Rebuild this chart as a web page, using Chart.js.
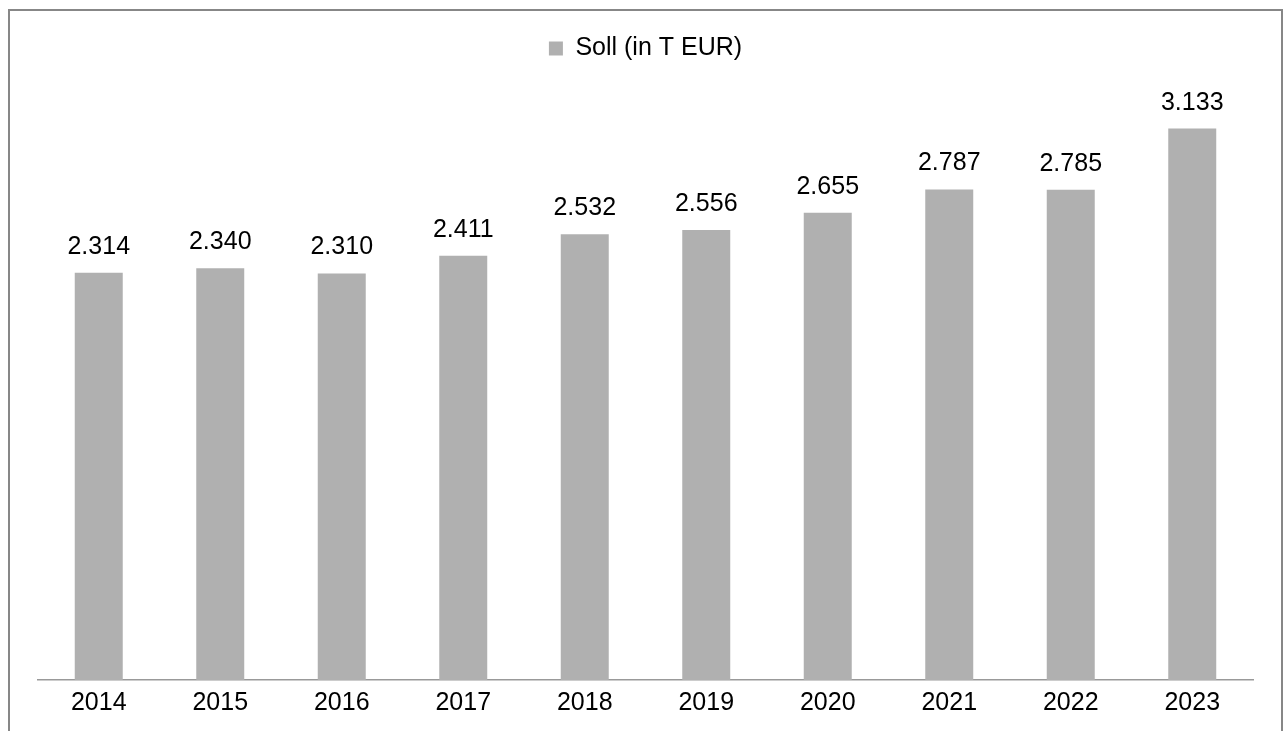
<!DOCTYPE html>
<html>
<head>
<meta charset="utf-8">
<script src="https://cdn.jsdelivr.net/npm/chart.js@4/dist/chart.umd.min.js"></script>
<style>
html,body{margin:0;padding:0;background:#fff;overflow:hidden;}
#wrap{position:relative;width:1286px;height:731px;}
</style>
</head>
<body>
<div id="wrap"><canvas id="c" width="1286" height="731"></canvas></div>
<script>
const categories = ['2014','2015','2016','2017','2018','2019','2020','2021','2022','2023'];
const sollValues = [2314, 2340, 2310, 2411, 2532, 2556, 2655, 2787, 2785, 3133];
const seriesLabel = 'Soll (in T EUR)';

const fmt = v => v.toLocaleString('de-DE');

const frame = {
  id: 'frame',
  beforeDraw(chart) {
    const ctx = chart.ctx;
    ctx.save();
    ctx.fillStyle = '#fff';
    ctx.fillRect(0, 0, chart.width, chart.height);
    ctx.strokeStyle = '#878787';
    ctx.lineWidth = 2;
    ctx.beginPath();
    ctx.moveTo(9, 760);
    ctx.lineTo(9, 10);
    ctx.lineTo(1282, 10);
    ctx.lineTo(1282, 760);
    ctx.stroke();
    ctx.restore();
  }
};

const valueLabels = {
  id: 'valueLabels',
  afterDatasetsDraw(chart) {
    const ctx = chart.ctx;
    const meta = chart.getDatasetMeta(0);
    ctx.save();
    ctx.font = '25px "Liberation Sans", Arial, sans-serif';
    ctx.fillStyle = '#000';
    ctx.textAlign = 'center';
    ctx.textBaseline = 'alphabetic';
    meta.data.forEach((bar, i) => {
      ctx.fillText(fmt(chart.data.datasets[0].data[i]), bar.x, bar.y - 19);
    });
    ctx.restore();
  }
};

new Chart(document.getElementById('c'), {
  type: 'bar',
  data: {
    labels: categories,
    datasets: [{
      label: seriesLabel,
      data: sollValues,
      backgroundColor: '#b0b0b0',
      borderWidth: 0,
      categoryPercentage: 1,
      barPercentage: 0.395
    }]
  },
  options: {
    responsive: false,
    animation: false,
    layout: { padding: { left: 38, right: 33, top: 31, bottom: 5 } },
    plugins: {
      legend: {
        display: true,
        position: 'top',
        labels: {
          font: { family: '"Liberation Sans", Arial, sans-serif', size: 25 },
          color: '#000',
          boxWidth: 14,
          boxHeight: 14,
          padding: 5
        }
      },
      tooltip: { enabled: false }
    },
    scales: {
      x: {
        grid: { display: false, drawTicks: false },
        border: { display: true, color: '#999', width: 1.5 },
        ticks: {
          font: { family: '"Liberation Sans", Arial, sans-serif', size: 25 },
          color: '#000',
          padding: 8,
          maxRotation: 0
        }
      },
      y: {
        display: false,
        min: 0,
        max: 3460
      }
    }
  },
  plugins: [frame, valueLabels]
});
</script>
</body>
</html>
